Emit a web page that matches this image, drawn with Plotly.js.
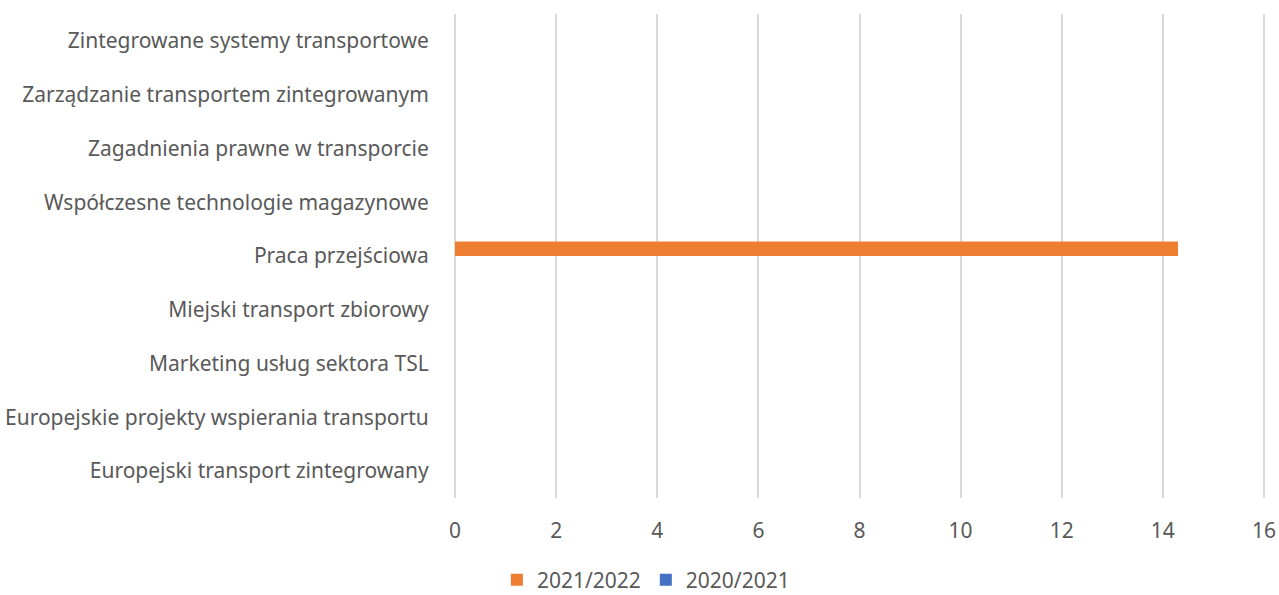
<!DOCTYPE html>
<html>
<head>
<meta charset="utf-8">
<script src="https://cdn.plot.ly/plotly-3.0.1.min.js"></script>
<style>html,body{margin:0;padding:0;background:#fff;}#chart{width:1279px;height:595px;}</style>
</head>
<body>
<div id="chart"></div>
<script>
const categories = [
  "Europejski transport zintegrowany",
  "Europejskie projekty wspierania transportu",
  "Marketing usług sektora TSL",
  "Miejski transport zbiorowy",
  "Praca przejściowa",
  "Współczesne technologie magazynowe",
  "Zagadnienia prawne w transporcie",
  "Zarządzanie transportem zintegrowanym",
  "Zintegrowane systemy transportowe"
];
const values2020_2021 = [0, 0, 0, 0, 0, 0, 0, 0, 0];
const values2021_2022 = [0, 0, 0, 0, 14.3, 0, 0, 0, 0];
const xTicks = [0, 2, 4, 6, 8, 10, 12, 14, 16];

const traces = [
  {type: "bar", orientation: "h", name: "2020/2021", y: categories, x: values2020_2021,
   marker: {color: "#4472C4"}, hoverinfo: "x+y+name"},
  {type: "bar", orientation: "h", name: "2021/2022", y: categories, x: values2021_2022,
   marker: {color: "#ED7D31"}, hoverinfo: "x+y+name"}
];

const font = {family: "Noto Sans, Open Sans, sans-serif", size: 21, color: "#595959"};

const layout = {
  width: 1279, height: 595,
  margin: {l: 454, r: 14, t: 14, b: 97, pad: 0},
  paper_bgcolor: "#fff", plot_bgcolor: "#fff",
  font: font,
  barmode: "group",
  bargap: 0.46,
  bargroupgap: 0,
  showlegend: true,
  legend: {orientation: "h", xref: "container", x: 0.505, xanchor: "center",
           yref: "container", y: 0.025, yanchor: "middle",
           traceorder: "reversed", font: font, itemwidth: 30},
  xaxis: {range: [-0.02, 16.02], tickvals: xTicks, ticktext: xTicks.map(String),
          showgrid: true, gridcolor: "#D9D9D9", gridwidth: 2,
          zeroline: false, showline: false,
          ticks: "outside", ticklen: 14, tickcolor: "rgba(0,0,0,0)",
          tickfont: font, fixedrange: true},
  yaxis: {type: "category", categoryorder: "array", categoryarray: categories,
          showgrid: false, zeroline: false, showline: false,
          ticks: "outside", ticklen: 20, tickcolor: "rgba(0,0,0,0)",
          tickfont: font, fixedrange: true}
};

Plotly.newPlot("chart", traces, layout, {displayModeBar: false, staticPlot: true});
</script>
</body>
</html>
